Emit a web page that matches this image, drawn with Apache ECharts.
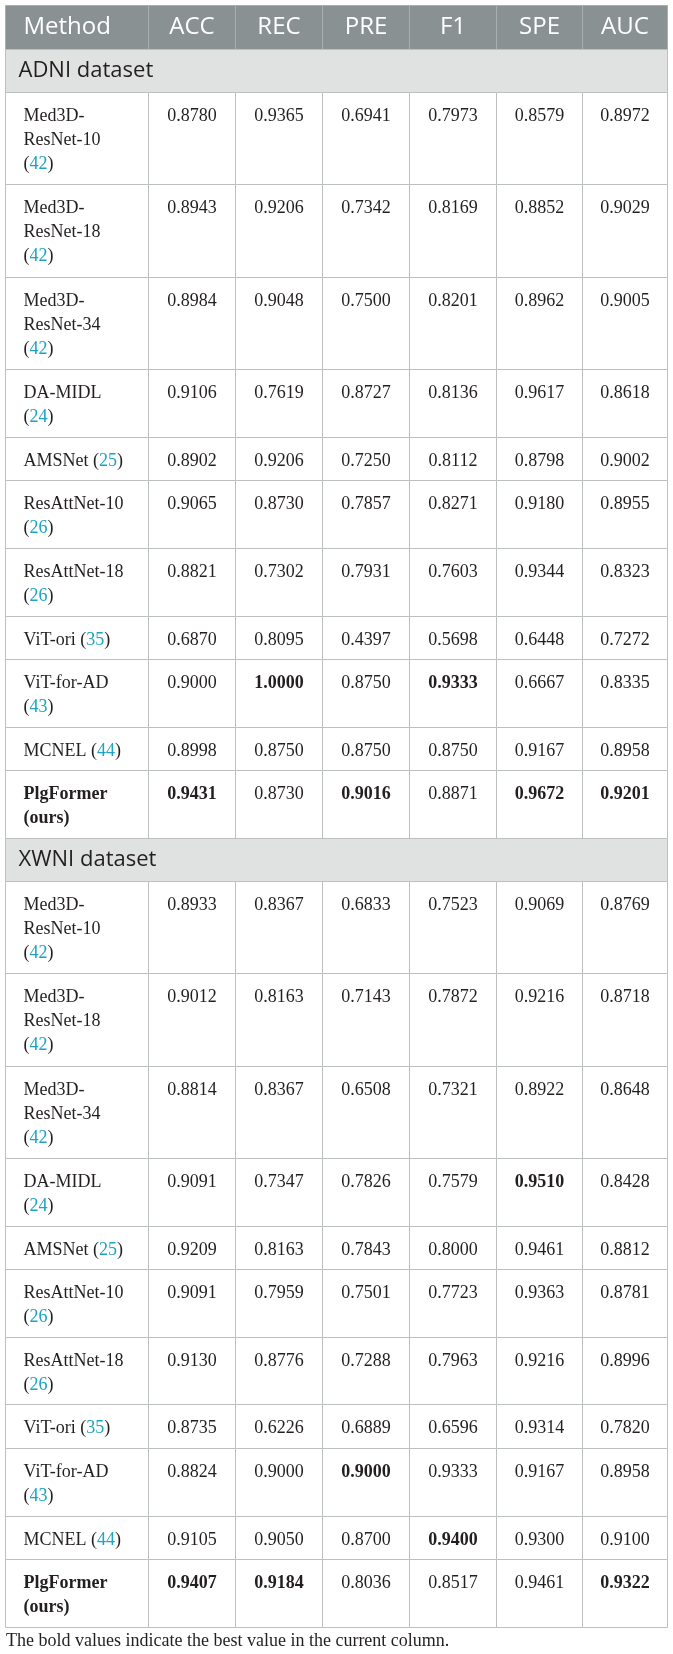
<!DOCTYPE html>
<html>
<head>
<meta charset="utf-8">
<script src="https://cdn.jsdelivr.net/npm/echarts@6/dist/echarts.min.js"></script>
<style>
  html, body { margin: 0; padding: 0; background: #fff; }
  #main { width: 673px; height: 1654px; }
</style>
</head>
<body>
<div id="main"></div>
<script>
// table content
var columns = ['Method', 'ACC', 'REC', 'PRE', 'F1', 'SPE', 'AUC'];
var sectionNames = ['ADNI dataset', 'XWNI dataset'];
var methods = [
  'Med3D-\nResNet-10\n(42)', 'Med3D-\nResNet-18\n(42)', 'Med3D-\nResNet-34\n(42)',
  'DA-MIDL\n(24)', 'AMSNet (25)', 'ResAttNet-10\n(26)', 'ResAttNet-18\n(26)',
  'ViT-ori (35)', 'ViT-for-AD\n(43)', 'MCNEL (44)', 'PlgFormer\n(ours)'
];

var accADNI = [0.8780, 0.8943, 0.8984, 0.9106, 0.8902, 0.9065, 0.8821, 0.6870, 0.9000, 0.8998, 0.9431];
var recADNI = [0.9365, 0.9206, 0.9048, 0.7619, 0.9206, 0.8730, 0.7302, 0.8095, 1.0000, 0.8750, 0.8730];
var preADNI = [0.6941, 0.7342, 0.7500, 0.8727, 0.7250, 0.7857, 0.7931, 0.4397, 0.8750, 0.8750, 0.9016];
var f1ADNI  = [0.7973, 0.8169, 0.8201, 0.8136, 0.8112, 0.8271, 0.7603, 0.5698, 0.9333, 0.8750, 0.8871];
var speADNI = [0.8579, 0.8852, 0.8962, 0.9617, 0.8798, 0.9180, 0.9344, 0.6448, 0.6667, 0.9167, 0.9672];
var aucADNI = [0.8972, 0.9029, 0.9005, 0.8618, 0.9002, 0.8955, 0.8323, 0.7272, 0.8335, 0.8958, 0.9201];

var accXWNI = [0.8933, 0.9012, 0.8814, 0.9091, 0.9209, 0.9091, 0.9130, 0.8735, 0.8824, 0.9105, 0.9407];
var recXWNI = [0.8367, 0.8163, 0.8367, 0.7347, 0.8163, 0.7959, 0.8776, 0.6226, 0.9000, 0.9050, 0.9184];
var preXWNI = [0.6833, 0.7143, 0.6508, 0.7826, 0.7843, 0.7501, 0.7288, 0.6889, 0.9000, 0.8700, 0.8036];
var f1XWNI  = [0.7523, 0.7872, 0.7321, 0.7579, 0.8000, 0.7723, 0.7963, 0.6596, 0.9333, 0.9400, 0.8517];
var speXWNI = [0.9069, 0.9216, 0.8922, 0.9510, 0.9461, 0.9363, 0.9216, 0.9314, 0.9167, 0.9300, 0.9461];
var aucXWNI = [0.8769, 0.8718, 0.8648, 0.8428, 0.8812, 0.8781, 0.8996, 0.7820, 0.8958, 0.9100, 0.9322];

var footnote = 'The bold values indicate the best value in the current column.';

// layout
var W = 673, H = 1654;
var colEdges = [5, 148, 235, 322, 409, 496, 582, 667];
var tableTop = 5;
var headerH = 44;
var sectionH = 43;
var rowHByLines = [0, 43.5, 67.7, 92.3];
var serif = '"Liberation Serif", "DejaVu Serif", serif';
var sans = '"Open Sans", "Noto Sans", sans-serif';
var ink = '#231f20';
var cyan = '#1ba3c1';

var blocks = [
  [accADNI, recADNI, preADNI, f1ADNI, speADNI, aucADNI],
  [accXWNI, recXWNI, preXWNI, f1XWNI, speXWNI, aucXWNI]
];

// build cells
var cells = [];
var y = tableTop;
columns.forEach(function (name, c) {
  cells.push({ kind: 'header', text: name, col: c, x0: colEdges[c], x1: colEdges[c + 1], y0: y, y1: y + headerH });
});
y += headerH;

blocks.forEach(function (metrics, b) {
  cells.push({ kind: 'section', text: sectionNames[b], x0: colEdges[0], x1: colEdges[7], y0: y, y1: y + sectionH });
  y += sectionH;
  // bold = best value of the column within this dataset
  var best = metrics.map(function (arr) { return Math.max.apply(null, arr); });
  methods.forEach(function (m, r) {
    var lines = m.split('\n').length;
    var y1 = y + rowHByLines[lines];
    cells.push({ kind: 'method', text: m, bold: m.indexOf('(ours)') >= 0, x0: colEdges[0], x1: colEdges[1], y0: y, y1: y1 });
    metrics.forEach(function (arr, k) {
      cells.push({ kind: 'value', text: arr[r].toFixed(4), bold: arr[r] === best[k],
        x0: colEdges[k + 1], x1: colEdges[k + 2], y0: y, y1: y1 });
    });
    y = y1;
  });
});

function richMethod(s) {
  return s.replace(/\((\d+)\)/g, '({c|$1})');
}

function renderCell(params, api) {
  var cell = cells[params.dataIndex];
  var p0 = api.coord([api.value(0), api.value(1)]);
  var p1 = api.coord([api.value(2), api.value(3)]);
  var x0 = Math.round(p0[0]) + 0.5, y0 = Math.round(p0[1]) + 0.5;
  var x1 = Math.round(p1[0]) + 0.5, y1 = Math.round(p1[1]) + 0.5;
  var fill = '#ffffff', stroke = '#bcbfc0';
  if (cell.kind === 'header') { fill = '#8a9193'; stroke = '#a9aeb0'; }
  if (cell.kind === 'section') { fill = '#e0e2e1'; }
  var children = [{
    type: 'rect',
    shape: { x: x0, y: y0, width: x1 - x0, height: y1 - y0 },
    style: { fill: fill, stroke: stroke, lineWidth: 1 }
  }];
  var ts;
  if (cell.kind === 'header') {
    ts = {
      text: cell.text, fill: '#ffffff', fontFamily: sans, fontSize: 24,
      x: cell.col === 0 ? x0 + 18 : (x0 + x1) / 2, y: (y0 + y1) / 2,
      align: cell.col === 0 ? 'left' : 'center', verticalAlign: 'middle'
    };
  } else if (cell.kind === 'section') {
    ts = {
      text: cell.text, fill: ink, fontFamily: sans, fontSize: 22,
      x: x0 + 13, y: (y0 + y1) / 2, align: 'left', verticalAlign: 'middle'
    };
  } else if (cell.kind === 'method') {
    ts = {
      text: richMethod(cell.text), fill: ink, fontFamily: serif, fontSize: 18,
      fontWeight: cell.bold ? 'bold' : 'normal', lineHeight: 24,
      x: x0 + 18, y: y0 + 12, align: 'left', verticalAlign: 'top',
      rich: { c: { fill: cyan, fontFamily: serif, fontSize: 18, lineHeight: 24 } }
    };
  } else {
    ts = {
      text: cell.text, fill: ink, fontFamily: serif, fontSize: 18,
      fontWeight: cell.bold ? 'bold' : 'normal', lineHeight: 24,
      x: (x0 + x1) / 2, y: y0 + 12, align: 'center', verticalAlign: 'top'
    };
  }
  children.push({ type: 'text', style: ts });
  return { type: 'group', children: children };
}

var chart = echarts.init(document.getElementById('main'), null, { renderer: 'canvas' });
chart.setOption({
  animation: false,
  backgroundColor: '#ffffff',
  title: {
    text: footnote,
    left: 6,
    top: 1632,
    padding: 0,
    textStyle: { fontFamily: serif, fontSize: 18, fontWeight: 'normal', color: ink }
  },
  grid: { left: 0, right: 0, top: 0, bottom: 0 },
  xAxis: { type: 'value', min: 0, max: W, show: false },
  yAxis: { type: 'value', min: 0, max: H, inverse: true, show: false },
  series: [{
    type: 'custom',
    coordinateSystem: 'cartesian2d',
    renderItem: renderCell,
    silent: true,
    clip: false,
    data: cells.map(function (c) { return [c.x0, c.y0, c.x1, c.y1]; })
  }]
});
</script>
</body>
</html>
